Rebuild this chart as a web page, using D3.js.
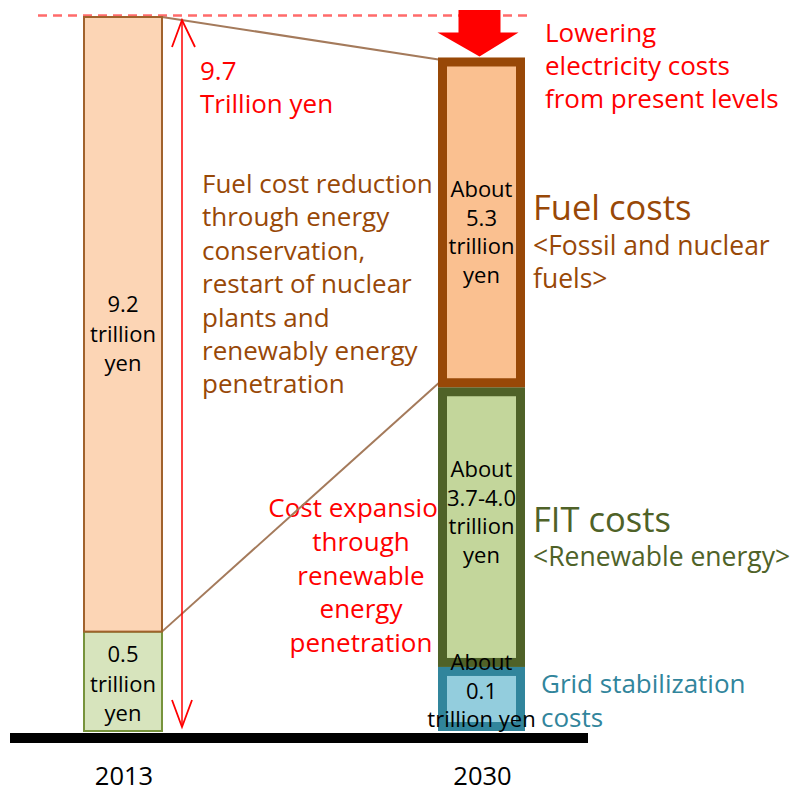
<!DOCTYPE html>
<html>
<head>
<meta charset="utf-8">
<script src="https://cdn.jsdelivr.net/npm/d3@7"></script>
<style>
  html, body { margin: 0; padding: 0; background: #fff; }
  svg { display: block; }
  text { font-family: "Open Sans", "Noto Sans", sans-serif; }
</style>
</head>
<body>
<svg id="chart" width="796" height="792"></svg>
<script>
// ---------------- DATA ----------------
const categories = ['2013', '2030'];
const seriesKeys = ['grid', 'fit', 'fuel'];
// Segment heights as depicted in the (schematic) chart, in trillion yen
const grid = [0, 0.87];
const fit = [1.35, 3.80];
const fuel = [8.35, 4.48];
const totalMax = 9.7;
// Labels
const labels2013 = [[], ['0.5', 'trillion', 'yen'], ['9.2', 'trillion', 'yen']];
const labels2030 = [['About', '0.1', 'trillion yen'], ['About', '3.7-4.0', 'trillion', 'yen'], ['About', '5.3', 'trillion', 'yen']];
const totalLabel = ['9.7', 'Trillion yen'];
const topNote = ['Lowering', 'electricity costs', 'from present levels'];
const reductionNote = ['Fuel cost reduction', 'through energy', 'conservation,', 'restart of nuclear', 'plants and', 'renewably energy', 'penetration'];
const expansionNote = ['Cost expansion', 'through', 'renewable', 'energy', 'penetration'];
const legendFuel = ['Fuel costs', '<Fossil and nuclear', 'fuels>'];
const legendFit = ['FIT costs', '<Renewable energy>'];
const legendGrid = ['Grid stabilization', 'costs'];

(function () {
// ---------------- SETUP ----------------
const svg = d3.select('#chart');
const table = categories.map((c, i) => ({ year: c, grid: grid[i], fit: fit[i], fuel: fuel[i] }));
const stacked = d3.stack().keys(seriesKeys)(table);

const x = d3.scalePoint().domain(categories).range([123, 481.5]);
const y = d3.scaleLinear().domain([0, totalMax]).range([731, 17]);
const barW = 78;

const styles = {
  '2013': {
    grid: { fill: '#B7DEE8', stroke: '#31859C', sw: 2 },
    fit: { fill: '#D7E4BD', stroke: '#77933C', sw: 2 },
    fuel: { fill: '#FCD5B5', stroke: '#A0622D', sw: 2 }
  },
  '2030': {
    grid: { fill: '#93CDDD', stroke: '#31859C', sw: 9 },
    fit: { fill: '#C3D69B', stroke: '#4F6228', sw: 9 },
    fuel: { fill: '#FAC090', stroke: '#984807', sw: 9 }
  }
};

function multiline(sel, lines, x0, y0, lh, opts) {
  const t = sel.append('text')
    .attr('x', x0).attr('y', y0)
    .attr('fill', opts.fill)
    .attr('font-size', opts.size)
    .attr('text-anchor', opts.anchor || 'start');
  lines.forEach((l, i) => {
    t.append('tspan').attr('x', x0).attr('y', y0 + i * lh).text(l);
  });
  return t;
}

// ---------------- ANNOTATION TEXT (under bars) ----------------
multiline(svg, topNote, 545, 42, 33, { fill: '#FF0000', size: 26 });
multiline(svg, totalLabel, 200, 80, 33, { fill: '#FF0000', size: 26 });
multiline(svg, reductionNote, 202, 193, 33.4, { fill: '#984807', size: 26 });
multiline(svg, expansionNote, 361, 517, 33.8, { fill: '#FF0000', size: 26, anchor: 'middle' });
multiline(svg, legendFuel.slice(0, 1), 533, 220, 0, { fill: '#984807', size: 34.5 });
multiline(svg, legendFuel.slice(1), 533, 255, 33, { fill: '#984807', size: 26.5 });
multiline(svg, legendFit.slice(0, 1), 533, 532, 0, { fill: '#4F6228', size: 34.5 });
multiline(svg, legendFit.slice(1), 533, 566, 0, { fill: '#4F6228', size: 26.5 });
multiline(svg, legendGrid, 541, 693, 34, { fill: '#31859C', size: 26 });

// ---------------- TOP DASHED LINE ----------------
svg.append('line')
  .attr('x1', 38).attr('x2', 528)
  .attr('y1', y(totalMax) - 1.5).attr('y2', y(totalMax) - 1.5)
  .attr('stroke', '#FF6B6B').attr('stroke-width', 2.5)
  .attr('stroke-dasharray', '9,6');

// ---------------- CONNECTOR LINES ----------------
const s2013 = d3.sum(seriesKeys, k => table[0][k]);
const s2030 = d3.sum(seriesKeys, k => table[1][k]);
svg.append('line')
  .attr('x1', x('2013') + barW / 2).attr('y1', y(s2013))
  .attr('x2', x('2030') - barW / 2 - 4).attr('y2', y(s2030) + 2)
  .attr('stroke', '#A47A5B').attr('stroke-width', 2);
svg.append('line')
  .attr('x1', x('2013') + barW / 2).attr('y1', y(table[0].grid + table[0].fit))
  .attr('x2', x('2030') - barW / 2 - 4).attr('y2', y(table[1].grid + table[1].fit) - 4)
  .attr('stroke', '#A47A5B').attr('stroke-width', 2);

// ---------------- BARS ----------------
stacked.forEach(layer => {
  const key = layer.key;
  layer.forEach(d => {
    const yr = d.data.year;
    if (d[1] - d[0] <= 0) return;
    const st = styles[yr][key];
    const inset = yr === '2030' ? st.sw / 2 : 0;
    svg.append('rect')
      .attr('x', x(yr) - barW / 2)
      .attr('y', y(d[1]) + inset)
      .attr('width', barW)
      .attr('height', y(d[0]) - y(d[1]) - 2 * inset)
      .attr('fill', st.fill)
      .attr('stroke', st.stroke)
      .attr('stroke-width', st.sw);
  });
});

// ---------------- BAR LABELS ----------------
const labelPos2013 = { fit: 662, fuel: 312 };
const labelPos2030 = { grid: 670, fit: 477, fuel: 197 };
seriesKeys.forEach((k, i) => {
  if (labels2013[i].length) multiline(svg, labels2013[i], x('2013'), labelPos2013[k], 29.5, { fill: '#000', size: 22, anchor: 'middle' });
  multiline(svg, labels2030[i], x('2030'), labelPos2030[k], 28.6, { fill: '#000', size: 22, anchor: 'middle' });
});

// ---------------- BASELINE ----------------
svg.append('rect')
  .attr('x', 10).attr('y', y(0) + 2)
  .attr('width', 578).attr('height', 10)
  .attr('fill', '#000');

// ---------------- YEAR LABELS ----------------
svg.selectAll('.year').data(categories).enter().append('text')
  .attr('class', 'year')
  .attr('x', d => x(d) + 1).attr('y', 785)
  .attr('text-anchor', 'middle')
  .attr('font-size', 25.5).attr('fill', '#000')
  .text(d => d);

// ---------------- VERTICAL RED ARROW (9.7 trillion) ----------------
const ax = x('2013') + barW / 2 + 20;
const aTop = y(totalMax) + 3, aBot = y(0) - 4;
svg.append('line').attr('x1', ax).attr('x2', ax).attr('y1', aTop).attr('y2', aBot)
  .attr('stroke', '#FF0000').attr('stroke-width', 1.5);
svg.append('path')
  .attr('d', `M${ax - 10},${aTop + 27} L${ax},${aTop} L${ax + 13},${aTop + 27}`)
  .attr('fill', 'none').attr('stroke', '#FF0000').attr('stroke-width', 1.8);
svg.append('path')
  .attr('d', `M${ax - 10},${aBot - 27} L${ax},${aBot} L${ax + 10},${aBot - 27}`)
  .attr('fill', 'none').attr('stroke', '#FF0000').attr('stroke-width', 1.8);

// ---------------- BIG RED DOWN ARROW ----------------
const cx = x('2030') - 2;
const tip = y(s2030) - 1;
const headTop = tip - 24;
const shaftTop = y(totalMax) - 7;
svg.append('path')
  .attr('d', `M${cx - 21},${shaftTop} L${cx + 21},${shaftTop} L${cx + 21},${headTop} L${cx + 39},${headTop} L${cx},${tip} L${cx - 42},${headTop} L${cx - 21},${headTop} Z`)
  .attr('fill', '#FF0000');
})();
</script>
</body>
</html>
